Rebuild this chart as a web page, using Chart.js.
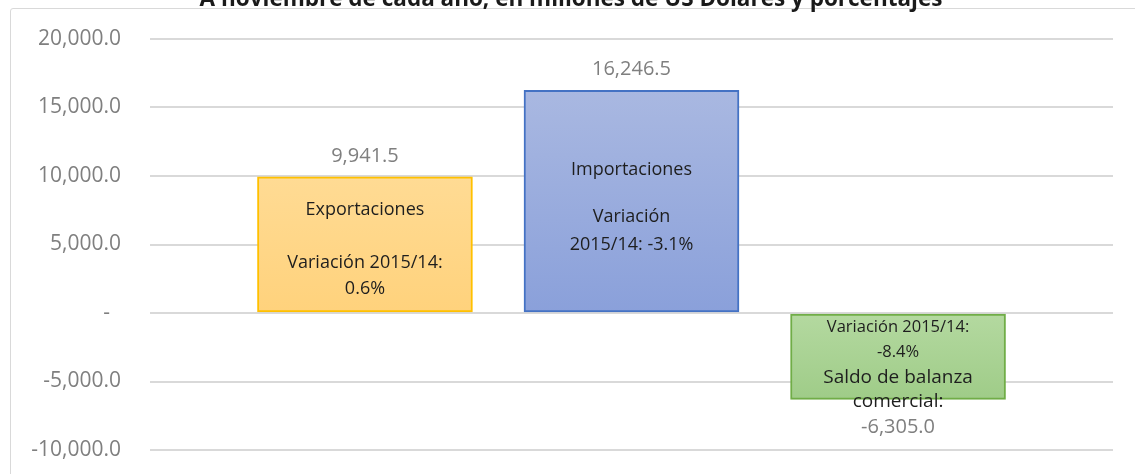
<!DOCTYPE html>
<html>
<head>
<meta charset="utf-8">
<script src="https://cdn.jsdelivr.net/npm/chart.js@4.4.1/dist/chart.umd.min.js"></script>
<style>
  html, body { margin: 0; padding: 0; background: #ffffff; overflow: hidden; }
  #wrap { position: relative; width: 1135px; height: 474px; }
  #frame { position: absolute; left: 10px; top: 8px; width: 1140px; height: 480px;
           border: 1px solid #d9d9d9; border-radius: 3px; box-sizing: border-box; }
  canvas { position: absolute; left: 0; top: 0; }
</style>
</head>
<body>
<div id="wrap">
  <div id="frame"></div>
  <canvas id="c" width="1135" height="474"></canvas>
</div>
<script>
// ---- data ----
const titleText = "A noviembre de cada año, en millones de US Dólares y porcentajes";
const categories = ["Exportaciones", "Importaciones", "Saldo de balanza comercial"];
const values = [9941.5, 16246.5, -6305.0];
const yTicks = [-10000, -5000, 0, 5000, 10000, 15000, 20000];
const boxTexts = [
  ["Exportaciones", "Variación 2015/14:", "0.6%"],
  ["Importaciones", "Variación", "2015/14: -3.1%"],
  ["Variación 2015/14:", "-8.4%", "Saldo de balanza", "comercial:"]
];

// ---- styles ----
const fills = [["#ffdb94", "#ffd27c"], ["#a9b8e1", "#8aa0da"], ["#b4d9a0", "#9fcc88"]];
const borders = ["#ffc000", "#4472c4", "#70ad47"];
const FONT = "'Open Sans', 'Lato', sans-serif";

function fmt(v) {
  if (v === 0) return "-";
  return v.toLocaleString("en-US", { minimumFractionDigits: 1, maximumFractionDigits: 1 });
}

const points = values.map((v, i) => ({ x: i + 1, y: v }));

const overlay = {
  id: "overlay",
  afterDraw(chart) {
    const ctx = chart.ctx;
    const meta = chart.getDatasetMeta(0);
    ctx.save();
    // title (partially cut at top)
    ctx.fillStyle = "#1a1a1a";
    ctx.font = "bold 22.5px " + FONT;
    ctx.textAlign = "center";
    ctx.textBaseline = "alphabetic";
    ctx.fillText(titleText, 571, 6);

    // value labels
    ctx.fillStyle = "#7f7f7f";
    ctx.font = "20px " + FONT;
    ctx.textBaseline = "middle";
    meta.data.forEach((bar, i) => {
      const v = values[i];
      const y = v >= 0 ? bar.y - 21 : bar.y + 28;
      ctx.fillText(fmt(v), bar.x, y);
    });

    // box texts
    ctx.fillStyle = "#1e1e1e";
    const b0 = meta.data[0], b1 = meta.data[1], b2 = meta.data[2];
    ctx.font = "18px " + FONT;
    ctx.fillText(boxTexts[0][0], b0.x, b0.y + 33);
    ctx.fillText(boxTexts[0][1], b0.x, b0.y + 86);
    ctx.fillText(boxTexts[0][2], b0.x, b0.y + 112);
    ctx.fillText(boxTexts[1][0], b1.x, b1.y + 79);
    ctx.fillText(boxTexts[1][1], b1.x, b1.y + 126);
    ctx.fillText(boxTexts[1][2], b1.x, b1.y + 154);
    const base = b2.base;
    ctx.font = "16.5px " + FONT;
    ctx.fillText(boxTexts[2][0], b2.x, base + 13);
    ctx.fillText(boxTexts[2][1], b2.x, base + 38);
    ctx.font = "19px " + FONT;
    ctx.fillText(boxTexts[2][2], b2.x, base + 64);
    ctx.fillText(boxTexts[2][3], b2.x, base + 88);
    ctx.restore();
  }
};

new Chart(document.getElementById("c"), {
  type: "bar",
  data: {
    labels: categories,
    datasets: [{
      data: points,
      barThickness: 215,
      borderWidth: 2,
      borderSkipped: false,
      borderColor: borders,
      backgroundColor(ctx) {
        const chart = ctx.chart;
        const i = ctx.dataIndex;
        if (!chart.chartArea || i === undefined || !chart.scales.y) return fills[i ? i : 0][0];
        const ys = chart.scales.y;
        const y1 = ys.getPixelForValue(Math.max(values[i], 0));
        const y2 = ys.getPixelForValue(Math.min(values[i], 0));
        const g = chart.ctx.createLinearGradient(0, y1, 0, y2);
        g.addColorStop(0, fills[i][0]);
        g.addColorStop(1, fills[i][1]);
        return g;
      }
    }]
  },
  options: {
    responsive: false,
    animation: false,
    devicePixelRatio: 1,
    layout: { padding: { top: 39, bottom: 24, left: 0, right: 22 } },
    plugins: { legend: { display: false }, tooltip: { enabled: false }, title: { display: false } },
    scales: {
      x: {
        type: "linear",
        display: false,
        offset: false,
        min: 0.1935,
        max: 3.8065,
        grid: { display: false }
      },
      y: {
        min: -10000,
        max: 20000,
        afterFit(scale) { scale.width = 150; },
        afterBuildTicks(scale) { scale.ticks = yTicks.map(v => ({ value: v })); },
        border: { display: false },
        grid: { color: "#d9d9d9", lineWidth: 2, drawTicks: true, tickLength: 26, tickColor: "rgba(0,0,0,0)" },
        ticks: {
          padding: 3,
          color: "#7f7f7f",
          font: { family: FONT, size: 21 },
          callback: (v) => (v === 0 ? "-  " : fmt(v))
        }
      }
    }
  },
  plugins: [overlay]
});
</script>
</body>
</html>
